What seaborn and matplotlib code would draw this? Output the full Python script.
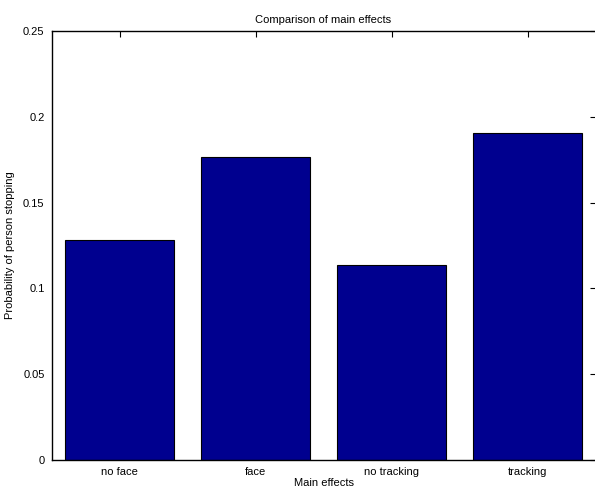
import matplotlib
matplotlib.use("Agg")
import matplotlib.pyplot as plt
import seaborn as sns
import pandas as pd

categories = ["no face", "face", "no tracking", "tracking"]
probabilities = [0.1282, 0.1763, 0.1137, 0.1907]

sns.set_style("white", {"text.color": "black", "axes.labelcolor": "black",
                        "xtick.color": "black", "ytick.color": "black"})
plt.rcParams['font.family'] = ['Liberation Sans', 'DejaVu Sans']

df = pd.DataFrame({"effect": categories, "prob": probabilities})

fig = plt.figure(figsize=(5.95, 4.91), dpi=100)
ax = fig.add_axes([51.5 / 595, 31 / 491, 544 / 595, 429 / 491])
sns.barplot(data=df, x="effect", y="prob", color="#00008f", saturation=1,
            edgecolor="black", linewidth=0.8, width=0.8, ax=ax)

ax.set_xlim(-0.5, 3.5)
ax.set_ylim(0, 0.25)
ax.set_yticks([0, 0.05, 0.1, 0.15, 0.2, 0.25])
ax.set_yticklabels(["0", "0.05", "0.1", "0.15", "0.2", "0.25"])
ax.tick_params(direction="in", length=4, width=0.8, labelsize=8, color="black",
               labelcolor="black", top=True, right=True, pad=5)
for s in ax.spines.values():
    s.set_visible(True)
    s.set_color("black")
    s.set_linewidth(1.0)

ax.set_title("Comparison of main effects", fontsize=8, pad=6, color="black")
ax.set_xlabel("Main effects", fontsize=8, labelpad=1, color="black")
ax.set_ylabel("Probability of person stopping", fontsize=8, labelpad=6, color="black")

fig.savefig("out.png", dpi=100)
